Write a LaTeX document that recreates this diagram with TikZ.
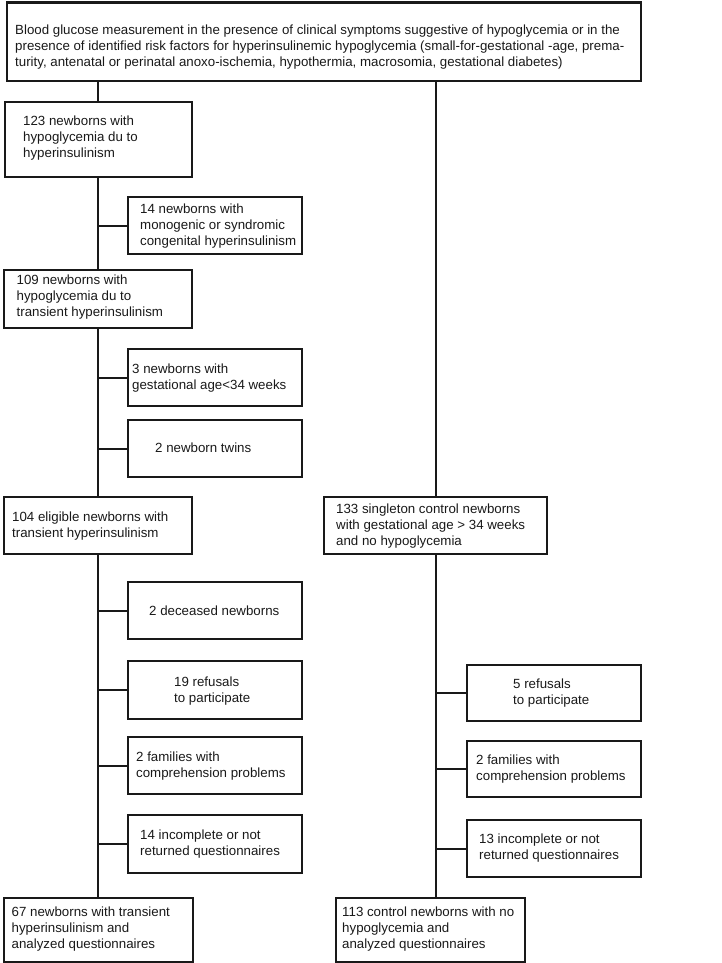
\documentclass[tikz,border=0pt]{standalone}
\usepackage{fontspec}
\setmainfont{Liberation Sans}
\begin{document}
\begin{tikzpicture}[x=1pt,y=-1pt,
  box/.style={draw=black!90, line width=2.2pt, rectangle, inner sep=0pt},
  txt/.style={align=left, inner sep=0pt, anchor=west, font=\fontsize{13.3}{16}\selectfont, text=black!90},
  link/.style={draw=black!90, line width=2.2pt}]
\useasboundingbox (0,0) rectangle (722,963);
\newcommand{\bx}[5]{%
  \node[box, minimum width={#4-#2}, minimum height={#5-#3}, anchor=north west] (#1) at (#2,#3) {};}
% boxes (corner coordinates of line centres)
\bx{top}{6}{1.5}{640}{80}
\bx{b123}{3.5}{101}{191}{176}
\bx{b14}{127}{196}{301}{253}
\bx{b109}{2.5}{269}{191}{327}
\bx{b3}{127}{348}{301}{405}
\bx{b2t}{127}{419}{301}{476}
\bx{b104}{2.5}{496}{191}{553}
\bx{b133}{323}{496}{546}{553}
\bx{b2d}{127}{581}{301}{638}
\bx{b19}{127}{660}{301}{718}
\bx{b2f}{127}{736}{301}{793}
\bx{b14i}{127}{814}{301}{872}
\bx{b67}{3}{897}{192}{961}
\bx{r5}{466}{664}{640}{720}
\bx{r2f}{466}{740}{640}{796}
\bx{r13}{466}{819}{640}{876}
\bx{b113}{335}{897}{524}{961}
% texts
\node[txt] (ttop) at ([xshift=9pt,yshift=-5.5pt]top.west) {Blood glucose measurement in the presence of clinical symptoms suggestive of hypoglycemia or in the\\presence of identified risk factors for hyperinsulinemic hypoglycemia (small-for-gestational -age, prema-\\turity, antenatal or perinatal anoxo-ischemia, hypothermia, macrosomia, gestational diabetes)};
\node[txt] (t123) at ([xshift=19.5pt,yshift=1.5pt]b123.west) {123 newborns with\\hypoglycemia du to\\hyperinsulinism};
\node[txt] (t14) at ([xshift=13pt]b14.west) {14 newborns with\\monogenic or syndromic\\congenital hyperinsulinism};
\node[txt] (t109) at ([xshift=14pt,yshift=2pt]b109.west) {109 newborns with\\hypoglycemia du to\\transient hyperinsulinism};
\node[txt] (t3) at ([xshift=5pt]b3.west) {3 newborns with\\gestational age<34 weeks};
\node[txt] (t2t) at ([xshift=28pt,yshift=1pt]b2t.west) {2 newborn twins};
\node[txt] (t104) at ([xshift=9.5pt]b104.west) {104 eligible newborns with\\transient hyperinsulinism};
\node[txt] (t133) at ([xshift=13pt]b133.west) {133 singleton control newborns\\with gestational age > 34 weeks\\and no hypoglycemia};
\node[txt] (t2d) at ([xshift=22pt]b2d.west) {2 deceased newborns};
\node[txt] (t19) at ([xshift=47pt,yshift=-1pt]b19.west) {19 refusals\\to participate};
\node[txt] (t2f) at ([xshift=9pt]b2f.west) {2 families with\\comprehension problems};
\node[txt] (t14i) at ([xshift=13pt]b14i.west) {14 incomplete or not\\returned questionnaires};
\node[txt] (t67) at ([xshift=8.5pt,yshift=1pt]b67.west) {67 newborns with transient\\hyperinsulinism and\\analyzed questionnaires};
\node[txt] (t5) at ([xshift=47pt]r5.west) {5 refusals\\to participate};
\node[txt] (tr2f) at ([xshift=10pt]r2f.west) {2 families with\\comprehension problems};
\node[txt] (t13) at ([xshift=13pt,yshift=1pt]r13.west) {13 incomplete or not\\returned questionnaires};
\node[txt] (t113) at ([xshift=7pt,yshift=1pt]b113.west) {113 control newborns with no\\ hypoglycemia and\\analyzed questionnaires};
% left trunk
\draw[link] (b109.north |- top.south) -- (b109.north |- b123.north);
\draw[link] (b109.north |- b123.south) -- (b109.north);
\draw[link] (b109.south) -- (b104.north);
\draw[link] (b104.south) -- (b104.south |- b67.north);
% right trunk
\draw[link] (b133.north |- top.south) -- (b133.north);
\draw[link] (b133.south) -- (b133.south |- b113.north);
% branches
\foreach \b in {b14}{\draw[link] (\b.west -| b109.north) -- (\b.west);}
\foreach \b in {b3,b2t}{\draw[link] (\b.west -| b109.south) -- (\b.west);}
\foreach \b in {b2d,b19,b2f,b14i}{\draw[link] (\b.west -| b104.south) -- (\b.west);}
\foreach \b in {r5,r2f,r13}{\draw[link] (\b.west -| b133.south) -- (\b.west);}
\end{tikzpicture}
\end{document}
